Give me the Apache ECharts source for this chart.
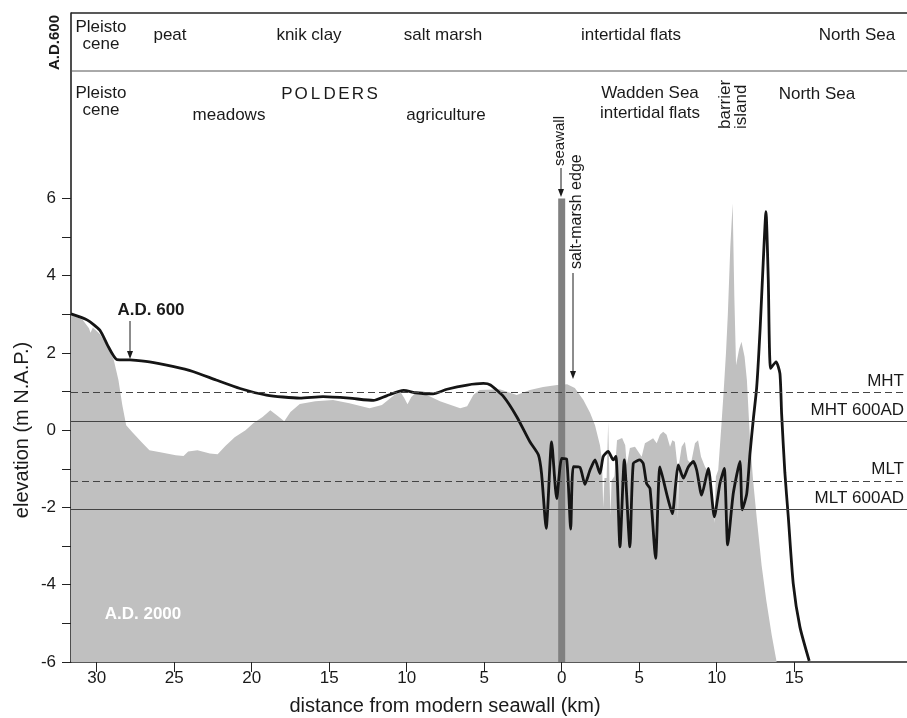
<!DOCTYPE html>
<html>
<head>
<meta charset="utf-8">
<script src="https://cdn.jsdelivr.net/npm/echarts@6/dist/echarts.min.js"></script>
<style>
html,body{margin:0;padding:0;background:#fff;}
#chart{width:907px;height:718px;}
</style>
</head>
<body>
<div id="chart"></div>
<script>
// ---- data (km: negative = landward of the modern seawall) ----
const grayKm = [-31.66,-30.9,-30.5,-30.4,-30.25,-29.8,-29.25,-28.9,-28.6,-28.35,-28.1,-27.7,-27.1,-26.6,-25.9,-24.9,-24.4,-24.1,-23.5,-22.7,-22.2,-21.7,-21.1,-20.4,-19.9,-19.3,-18.8,-18.3,-17.9,-17.5,-16.9,-15.9,-14.75,-13.7,-12.4,-11.6,-10.8,-10.4,-10.15,-9.95,-9.7,-9.45,-8.7,-7.85,-6.55,-6.1,-5.7,-5.3,-4.0,-2.9,-2.05,-1.2,-0.3,0.35,0.85,1.4,1.83,2.15,2.47,2.6,2.68,2.76,2.9,3.0,3.08,3.15,3.22,3.4,3.57,3.9,4.1,4.2,4.4,4.73,5.16,5.37,5.7,5.9,6.13,6.34,6.55,6.77,6.99,7.14,7.3,7.45,7.5,7.56,7.74,7.95,8.13,8.34,8.6,8.8,8.99,9.25,9.57,9.85,9.95,10.1,10.3,10.45,10.6,10.72,10.88,11.03,11.14,11.25,11.45,11.6,11.8,11.95,12.15,12.35,12.58,12.9,13.2,13.55,13.87];
const grayElev = [3.0,2.85,2.64,2.52,2.66,2.49,2.13,1.82,1.3,0.65,0.13,-0.05,-0.31,-0.52,-0.57,-0.65,-0.67,-0.55,-0.52,-0.6,-0.62,-0.41,-0.18,0.0,0.18,0.34,0.52,0.36,0.23,0.47,0.68,0.75,0.78,0.7,0.57,0.65,0.91,0.99,0.83,0.67,0.86,0.96,0.91,0.75,0.57,0.62,0.91,1.04,1.06,0.91,1.04,1.12,1.17,1.19,1.09,0.78,0.45,0.13,-0.39,-0.78,-2.0,-1.24,-1.24,0.21,-1.24,-2.2,-1.3,-1.19,-0.26,-0.2,-0.39,-0.9,-0.46,-0.43,-0.69,-0.34,-0.26,-0.21,-0.34,-0.12,-0.04,-0.12,-0.43,-0.26,-0.3,-0.86,-2.3,-0.9,-0.43,-0.3,-0.77,-0.86,-0.34,-0.26,-0.69,-0.95,-1.12,-2.4,-1.2,-1.03,0.1,1.0,2.0,3.0,4.75,5.87,3.45,1.68,2.1,2.29,1.9,1.3,-0.25,-1.3,-2.25,-3.5,-4.4,-5.3,-6.0];

const ad600Km = [-31.66,-30.6,-29.8,-29.25,-28.7,-27.85,-26.6,-25.1,-23.8,-22.3,-20.75,-19.05,-16.9,-15.4,-13.7,-12.15,-11.3,-10.2,-9.4,-8.3,-7.4,-6.1,-5.05,-4.6,-3.75,-2.9,-2.05,-1.5,-1.3,-1.0,-0.65,-0.32,0.0,0.32,0.58,0.75,1.18,1.5,1.83,2.15,2.47,2.68,3.0,3.33,3.5,3.76,4.04,4.4,4.62,5.05,5.26,5.48,5.7,6.06,6.34,6.77,7.14,7.35,7.52,7.85,8.17,8.49,8.71,9.03,9.46,9.85,10.21,10.49,10.71,11.07,11.5,11.65,11.94,12.15,12.36,12.58,12.8,13.0,13.18,13.33,13.48,13.83,14.08,14.19,14.4,14.62,14.94,15.37,15.97];
const ad600Elev = [3.01,2.85,2.59,2.16,1.83,1.82,1.77,1.65,1.52,1.30,1.08,0.91,0.83,0.87,0.83,0.77,0.89,1.03,0.97,0.94,1.06,1.17,1.21,1.17,0.87,0.35,-0.3,-0.64,-1.12,-2.54,-0.3,-1.77,-0.73,-0.75,-2.56,-0.94,-0.96,-1.4,-1.03,-0.77,-1.12,-0.68,-0.55,-0.77,-0.68,-3.02,-0.77,-3.02,-0.86,-0.77,-0.86,-1.38,-1.51,-3.32,-0.95,-1.64,-2.16,-1.42,-0.9,-1.24,-0.95,-0.81,-1.03,-1.68,-0.99,-2.24,-1.38,-0.99,-2.97,-1.64,-0.81,-2.06,-1.64,-0.6,0.27,1.1,2.6,4.32,5.66,3.89,1.6,1.77,1.47,0.43,-1.1,-2.24,-3.97,-5.09,-5.97];

const seawallKm = [0, 0];
const seawallElev = [-6, 6];

const refNames = ['MHT', 'MHT 600AD', 'MLT', 'MLT 600AD'];
const refLevels = [0.98, 0.23, -1.32, -2.05];
const refDashed = [true, false, true, false];

const xTickValues = [-30, -25, -20, -15, -10, -5, 0, 5, 10, 15];
const yTickValues = [-6, -5, -4, -3, -2, -1, 0, 1, 2, 3, 4, 5, 6];
const yLabelValues = [-6, -4, -2, 0, 2, 4, 6];

const headerTop = [['Pleisto\ncene'], ['peat'], ['knik clay'], ['salt marsh'], ['intertidal flats'], ['North Sea']];
// ---------------------------------------------------------------

const FONT = "'Liberation Sans', Arial, Helvetica, sans-serif";
const zip = (a, b) => a.map((v, i) => [v, b[i]]);

const chart = echarts.init(document.getElementById('chart'), null, {renderer: 'canvas'});

function txt(x, y, text, opt) {
  opt = opt || {};
  return {
    type: 'text', x: x, y: y, rotation: opt.rotation || 0, z: 100,
    style: {
      text: text, fill: opt.fill || '#1a1a1a',
      font: (opt.bold ? 'bold ' : '') + (opt.size || 17) + 'px ' + FONT,
      align: opt.align || 'center', verticalAlign: opt.va || 'middle',
      lineHeight: opt.lh || 17
    }
  };
}
function arrowDown(x, y1, y2) {
  return [
    {type: 'line', z: 100, shape: {x1: x, y1: y1, x2: x, y2: y2 - 6}, style: {stroke: '#1a1a1a', lineWidth: 1}},
    {type: 'polygon', z: 100, shape: {points: [[x - 3, y2 - 8], [x + 3, y2 - 8], [x, y2]]}, style: {fill: '#1a1a1a'}}
  ];
}

const polders = 'POLDERS'.split('');
const graphics = [
  {type: 'line', z: 100, shape: {x1: 71, y1: 13, x2: 907, y2: 13}, style: {stroke: '#222', lineWidth: 1.6}},
  {type: 'line', z: 100, shape: {x1: 71, y1: 71, x2: 907, y2: 71}, style: {stroke: '#555', lineWidth: 1}},
  txt(55, 70, 'A.D.600', {rotation: Math.PI / 2, align: 'left', bold: true, size: 15}),
  // top row (A.D. 600)
  txt(101, 36, headerTop[0][0]),
  txt(170, 35, headerTop[1][0]),
  txt(309, 35, headerTop[2][0]),
  txt(443, 35, headerTop[3][0]),
  txt(631, 35, headerTop[4][0]),
  txt(857, 35, headerTop[5][0]),
  // second row (A.D. 2000)
  txt(101, 102, 'Pleisto\ncene'),
  txt(229, 115, 'meadows'),
  txt(446, 115, 'agriculture'),
  txt(650, 103, 'Wadden Sea\nintertidal flats', {lh: 20}),
  txt(725, 129, 'barrier', {rotation: Math.PI / 2, align: 'left'}),
  txt(741, 129, 'island', {rotation: Math.PI / 2, align: 'left'}),
  txt(817, 94, 'North Sea'),
  // annotations
  txt(560, 166, 'seawall', {rotation: Math.PI / 2, align: 'left', size: 15}),
  txt(577, 269, 'salt-marsh edge', {rotation: Math.PI / 2, align: 'left', size: 16}),
  txt(151, 310, 'A.D. 600', {bold: true, size: 17}),
  txt(143, 614, 'A.D. 2000', {bold: true, size: 17, fill: '#ffffff'}),
  txt(22, 430, 'elevation (m N.A.P.)', {rotation: Math.PI / 2, size: 20}),
  txt(445, 706, 'distance from modern seawall (km)', {size: 20})
].concat(
  polders.map((c, i) => txt(287 + i * 14.2, 94, c)),
  arrowDown(130, 321, 359),
  arrowDown(561, 168, 197),
  arrowDown(573, 273, 379)
);

const option = {
  backgroundColor: '#ffffff',
  animation: false,
  textStyle: {fontFamily: FONT},
  grid: {left: 71, right: 0, top: 13, bottom: 56, containLabel: false},
  xAxis: {
    type: 'value', min: -31.66, max: 22.28,
    splitLine: {show: false},
    axisLine: {onZero: false, lineStyle: {color: '#222', width: 1.6}},
    axisTick: {length: 10, lineStyle: {color: '#222', width: 1}, customValues: xTickValues},
    axisLabel: {customValues: xTickValues, margin: 8, fontSize: 17, color: '#1a1a1a', fontFamily: FONT,
      formatter: v => String(Math.abs(Math.round(v)))}
  },
  yAxis: {
    type: 'value', min: -6, max: 10.8, interval: 1,
    splitLine: {show: false},
    axisLine: {onZero: false, lineStyle: {color: '#222', width: 1.6}},
    axisTick: {length: 9, lineStyle: {color: '#222', width: 1}, customValues: yTickValues},
    axisLabel: {customValues: yLabelValues, margin: 15, fontSize: 17, color: '#1a1a1a', fontFamily: FONT,
      formatter: v => (Math.abs(v % 2) < 1e-9 && v <= 6.001) ? String(Math.round(v)) : ''}
  },
  series: [
    {
      name: 'A.D. 2000', type: 'line', data: zip(grayKm, grayElev), showSymbol: false, symbol: 'none',
      lineStyle: {width: 0, color: '#c0c0c0'}, itemStyle: {color: '#c0c0c0'},
      areaStyle: {color: '#c0c0c0', opacity: 1, origin: 'start'}, z: 1, silent: true,
      markLine: {
        silent: true, symbol: ['none', 'none'], animation: false,
        data: refNames.map((n, i) => ({
          name: n, yAxis: refLevels[i],
          lineStyle: {color: '#444', width: 1, type: refDashed[i] ? [7, 4] : 'solid'}
        })),
        label: {show: true, position: 'insideEndTop', formatter: '{b}', color: '#1a1a1a', fontSize: 17, fontFamily: FONT, distance: 3}
      }
    },
    {
      name: 'seawall', type: 'line', data: zip(seawallKm, seawallElev), showSymbol: false, symbol: 'none',
      lineStyle: {width: 7, color: '#808080', cap: 'butt'}, z: 3, silent: true
    },
    {
      name: 'A.D. 600', type: 'line', data: zip(ad600Km, ad600Elev), showSymbol: false, symbol: 'none',
      smooth: 0.2, lineStyle: {width: 2.8, color: '#151515'}, z: 4, silent: true
    }
  ],
  graphic: graphics
};
chart.setOption(option);
</script>
</body>
</html>
